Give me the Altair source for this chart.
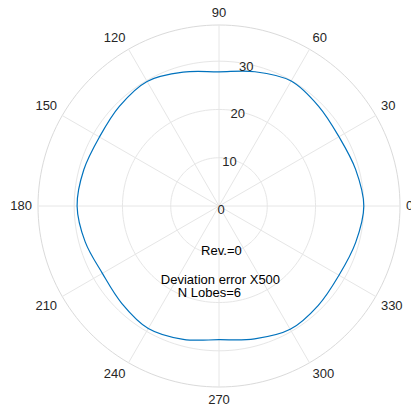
import altair as alt
import pandas as pd

# Polar trace: angle (deg) and radius
curve_angle = list(range(0, 360, 15))
curve_radius = [30.0, 29.3, 28.7, 29.2, 29.9, 28.8, 27.8, 28.7, 29.8, 29.2, 28.6, 29.0,
                29.4, 28.7, 27.9, 28.5, 29.3, 28.6, 27.7, 28.5, 29.5, 29.1, 28.7, 29.3]

# Grid definition
ring_values = [10, 20, 30]
r_max = 37.5
spoke_angles = list(range(0, 360, 30))
radial_labels = [0, 10, 20, 30]
radial_label_angle = 80

# Annotation lines
note_rev = "Rev.=0"
note_dev = "Deviation error X500"
note_lobes = "N Lobes=6"

R_PX = 181            # pixel radius of the outer circle
PX = R_PX / r_max     # pixels per radial unit
FONT = "Liberation Sans"

xs = alt.Scale(domain=[-r_max, r_max], nice=False, zero=False)
ys = alt.Scale(domain=[-r_max, r_max], nice=False, zero=False)
X = lambda f: alt.X(f, type="quantitative", scale=xs, axis=None)
Y = lambda f: alt.Y(f, type="quantitative", scale=ys, axis=None)

# circles of the grid (inner rings and outer boundary)
ring_rows = [{"r": r, "a": a, "outer": r == r_max}
             for r in ring_values + [r_max] for a in range(0, 361, 2)]
rings = alt.Chart(pd.DataFrame(ring_rows)).transform_calculate(
    x="datum.r*cos(datum.a*PI/180)", y="datum.r*sin(datum.a*PI/180)"
).mark_line(strokeWidth=1).encode(
    x=X("x"), y=Y("y"), detail="r:N", order="a:Q",
    color=alt.Color("outer:N", scale=alt.Scale(domain=[False, True], range=["#e6e6e6", "#dadada"]), legend=None),
)

spokes = alt.Chart(pd.DataFrame({"a": spoke_angles})).transform_calculate(
    x0="0", y0="0",
    x1=f"{r_max}*cos(datum.a*PI/180)", y1=f"{r_max}*sin(datum.a*PI/180)"
).mark_rule(color="#e6e6e6", strokeWidth=1).encode(
    x=X("x0"), y=Y("y0"), x2="x1:Q", y2="y1:Q"
)

curve = alt.Chart(pd.DataFrame({"i": range(len(curve_angle)), "a": curve_angle, "r": curve_radius})).transform_calculate(
    x="datum.r*cos(datum.a*PI/180)", y="datum.r*sin(datum.a*PI/180)"
).mark_line(interpolate="cardinal-closed", color="#0072BD", strokeWidth=1.2).encode(
    x=X("x"), y=Y("y"), order="i:Q"
)

# angle labels sit just outside the outer circle, pushed out by their half extent
angle_labels = alt.Chart(pd.DataFrame({"a": spoke_angles})).transform_calculate(
    t="toString(datum.a)",
    c="cos(datum.a*PI/180)", s="sin(datum.a*PI/180)",
).transform_calculate(
    x=f"(({R_PX}+6)*datum.c + length(datum.t)*3.6*clamp(datum.c*2,-1,1))/{PX}",
    y=f"(({R_PX}+6)*datum.s + 6.5*clamp(datum.s*2,-1,1))/{PX}",
).mark_text(font=FONT, fontSize=13, color="#262626", align="center", baseline="middle").encode(
    x=X("x"), y=Y("y"), text="t:N"
)

radial_text = alt.Chart(pd.DataFrame({"v": radial_labels})).transform_calculate(
    x=f"datum.v*cos({radial_label_angle}*PI/180)",
    y=f"datum.v*sin({radial_label_angle}*PI/180)",
).mark_text(font=FONT, fontSize=13, color="#262626", align="center", baseline="middle", dx=2, dy=3.5).encode(
    x=X("x"), y=Y("y"), text="v:Q"
)

notes = alt.Chart(pd.DataFrame({
    "t": [note_rev, note_dev, note_lobes],
    "x": [0.5, 0.3, -2.0],
    "y": [-9.3, -15.3, -18.0],
})).mark_text(font=FONT, fontSize=13, color="#000000", align="center", baseline="middle").encode(
    x=X("x"), y=Y("y"), text="t:N"
)

chart = alt.layer(rings, spokes, curve, angle_labels, radial_text, notes).properties(
    width=2 * R_PX, height=2 * R_PX,
    autosize=alt.AutoSizeParams(type="none"),
    padding={"left": 38, "top": 25, "right": 11, "bottom": 25},
    background="white",
).configure_view(stroke=None)

chart.save("out.html", embed_options={"renderer": "svg", "actions": False})
